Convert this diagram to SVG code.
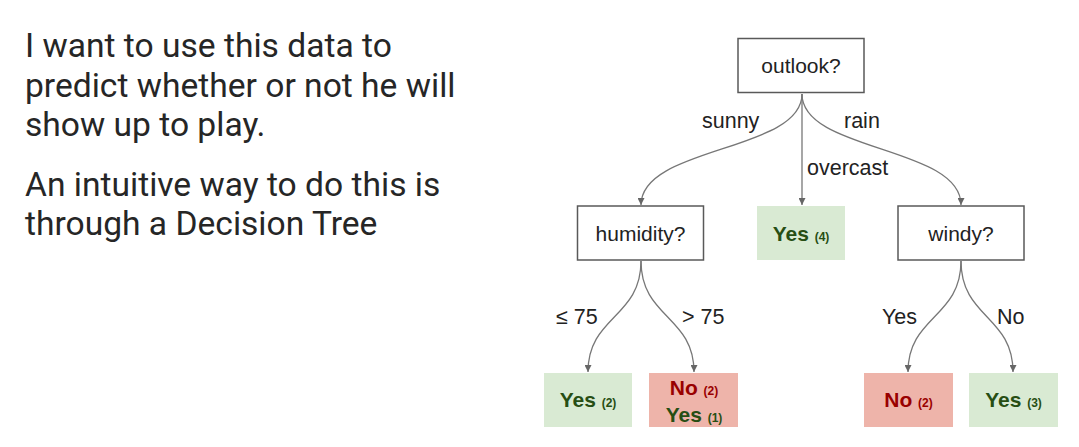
<svg xmlns="http://www.w3.org/2000/svg" width="1079" height="447" viewBox="0 0 1079 447">
<defs>
<marker id="ah" viewBox="0 0 10 10" refX="10" refY="5" markerWidth="7" markerHeight="7" markerUnits="userSpaceOnUse" orient="auto">
<path d="M0,0 L10,5 L0,10 z" fill="#666666"/>
</marker>
</defs>
<style>
.intro{font-family:Roboto,"Liberation Sans",sans-serif;font-size:33.6px;fill:#262626}
.q rect{fill:#ffffff;stroke:#595959;stroke-width:1.5}
.q text{font-family:"Liberation Sans",Arial,sans-serif;font-size:21px;fill:#222222;text-anchor:middle}
.yes rect{fill:#d9ead3}
.no rect{fill:#eeb4aa}
.leaf text{font-family:"Liberation Sans",Arial,sans-serif;font-weight:bold;font-size:21px;text-anchor:middle}
.yes text,.g{fill:#274e13}
.r{fill:#990000}
.sm{font-size:12px}
.lbl{font-family:"Liberation Sans",Arial,sans-serif;font-size:21.5px;fill:#222222}
#connectors path{fill:none;stroke:#777777;stroke-width:1.3;marker-end:url(#ah)}
</style>
<rect width="1079" height="447" fill="#ffffff"/>
<g id="intro-text" class="intro">
<text x="25" y="57">I want to use this data to</text>
<text x="25" y="96.5">predict whether or not he will</text>
<text x="25" y="136">show up to play.</text>
<text x="25" y="196">An intuitive way to do this is</text>
<text x="25" y="235">through a Decision Tree</text>
</g>
<g id="connectors">
<path d="M802,94 C802,152 641,146 641,205"/>
<path d="M802,94 L802,205"/>
<path d="M802,94 C802,152 961,146 961,205"/>
<path d="M641,261 C641,318 588,316 588,372"/>
<path d="M641,261 C641,318 694,316 694,372"/>
<path d="M961,261 C961,318 908,316 908,372"/>
<path d="M961,261 C961,318 1013,316 1013,372"/>
</g>
<g id="edge-labels" class="lbl">
<text x="702" y="128">sunny</text>
<text x="844" y="128">rain</text>
<text x="807" y="175">overcast</text>
<text x="556" y="324">≤ 75</text>
<text x="682" y="324">&gt; 75</text>
<text x="882" y="324">Yes</text>
<text x="997" y="324">No</text>
</g>
<g id="node-outlook" class="q">
<rect x="738" y="38.5" width="126" height="54"/>
<text x="801" y="73">outlook?</text>
</g>
<g id="node-humidity" class="q">
<rect x="577.5" y="206" width="126" height="54"/>
<text x="640.5" y="240.5">humidity?</text>
</g>
<g id="node-windy" class="q">
<rect x="898" y="206" width="126" height="54"/>
<text x="961" y="240.5">windy?</text>
</g>
<g id="leaf-overcast" class="leaf yes">
<rect x="757" y="206" width="88" height="54"/>
<text x="801" y="240.5">Yes <tspan class="sm">(4)</tspan></text>
</g>
<g id="leaf-low-humidity" class="leaf yes">
<rect x="544" y="373" width="88" height="54"/>
<text x="588" y="407">Yes <tspan class="sm">(2)</tspan></text>
</g>
<g id="leaf-high-humidity" class="leaf no">
<rect x="649" y="373" width="89" height="54"/>
<text x="694" y="395" class="r">No <tspan class="sm">(2)</tspan></text>
<text x="694" y="421.5" class="g">Yes <tspan class="sm">(1)</tspan></text>
</g>
<g id="leaf-windy-yes" class="leaf no">
<rect x="864" y="373" width="89" height="54"/>
<text x="908.5" y="407" class="r">No <tspan class="sm">(2)</tspan></text>
</g>
<g id="leaf-windy-no" class="leaf yes">
<rect x="969" y="373" width="89" height="54"/>
<text x="1013.5" y="407">Yes <tspan class="sm">(3)</tspan></text>
</g>
</svg>
